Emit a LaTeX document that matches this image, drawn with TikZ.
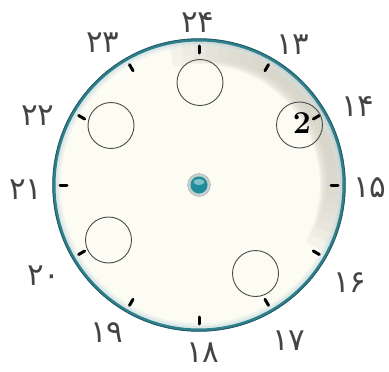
\documentclass[tikz,border=0pt]{standalone}
\usepackage{fontspec}
\newfontfamily\fafont[Script=Arabic]{DejaVu Sans}
\usetikzlibrary{calc}
\definecolor{rimcol}{HTML}{2F7F8C}
\definecolor{facecol}{HTML}{FCFCF3}
\definecolor{bandcol}{HTML}{D6D3C9}
\definecolor{numcol}{HTML}{444444}
\definecolor{hubcol}{HTML}{1F8E9A}
\begin{document}
\begin{tikzpicture}[x=1pt,y=-1pt,
  lbl/.style={font=\fafont\fontsize{31}{34}\selectfont, text=numcol, inner sep=0pt},
  slot/.style={circle, draw=black!70, line width=0.9pt, minimum size=46pt, inner sep=0pt},
  tickmark/.style={line width=3pt, line cap=round, draw=black},
  bandarc/.style={draw=bandcol, line cap=butt}]
\useasboundingbox (0,0) rectangle (389,372);
\coordinate (c) at (199,185);
% face
\fill[facecol] (c) circle (146);
% gray band (upper right), many stacked layers for soft ends
\foreach \i in {0,...,9}{
  \pgfmathsetmacro\s{-12+5*\i}
  \pgfmathsetmacro\e{118-4*\i}
  \pgfmathsetmacro\w{24-1.2*\i}
  \pgfmathsetmacro\r{145-\w/2}
  \draw[bandarc, line width=\w pt, opacity=0.2] ($(c)+(\s-90:\r)$) arc[start angle=\s-90, end angle=\e-90, radius=\r];
}
% inner glow of the rim
\draw[rimcol!35, line width=3pt, opacity=0.45] (c) circle (142.5);
\draw[rimcol!20, line width=3pt, opacity=0.35] (c) circle (140);
% rim
\draw[rimcol, line width=3pt] (c) circle (145);
\draw[rimcol!70!black, line width=0.8pt] (c) circle (146.3);
% hour ticks
\foreach \k in {0,...,11}{
  \draw[tickmark] ($(c)+(\k*30-90:132)$) -- ($(c)+(\k*30-90:139)$);
}
% hub
\node[circle, fill=gray!45, draw=gray!60, minimum size=23pt, inner sep=0pt] (hub) at (c) {};
\node[circle, fill=hubcol, minimum size=17pt, inner sep=0pt] (hubin) at (c) {};
\fill[white, opacity=0.45] ($(c)+(0,-3)$) ellipse (5.5 and 3);
\node[circle, draw=white!70!hubcol, line width=0.6pt, minimum size=20pt, inner sep=0pt] (hubring) at (c) {};
% slots
\node[slot] (s24) at (200,82.5) {};
\node[slot] (s22) at (111,125.5) {};
\node[slot] (s20) at (108.5,240) {};
\node[slot] (s16) at (255.5,273.5) {};
\node[slot] (s14) at (299.5,125) {};
\node[font=\bfseries\fontsize{32}{34}\selectfont, inner sep=0pt] (two) at (302,123) {2};
% hour labels
\node[lbl] (n24) at (198,23) {۲۴};
\node[lbl] (n13) at (293,45) {۱۳};
\node[lbl] (n14) at (358,107) {۱۴};
\node[lbl] (n15) at (370,188) {۱۵};
\node[lbl] (n16) at (350,283) {۱۶};
\node[lbl] (n17) at (289,341) {۱۷};
\node[lbl] (n18) at (203,353) {۱۸};
\node[lbl] (n19) at (107,333) {۱۹};
\node[lbl] (n20) at (44,276) {۲۰};
\node[lbl] (n21) at (26,190) {۲۱};
\node[lbl] (n22) at (38,116) {۲۲};
\node[lbl] (n23) at (103,43) {۲۳};
\end{tikzpicture}
\end{document}
